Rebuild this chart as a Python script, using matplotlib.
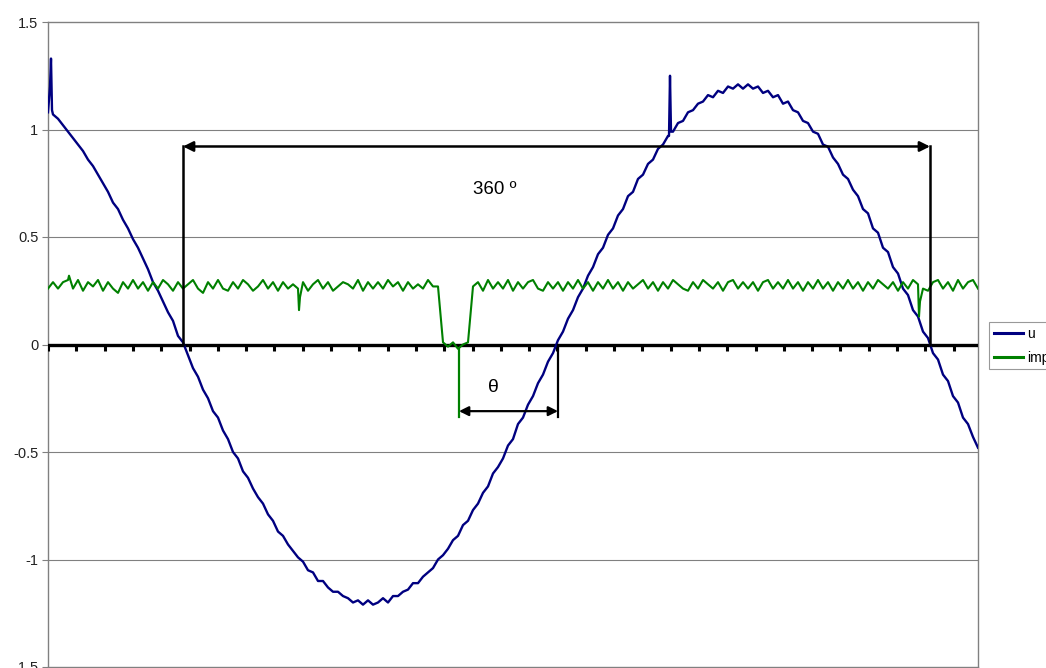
import numpy as np
import matplotlib.pyplot as plt

# sample positions (x axis has no labels, one unit per sample)
x = np.arange(0, 931, 5)

# u trace, every 5 samples
u = [1.08, 1.07, 1.05, 1.02, 0.99, 0.96, 0.93, 0.90, 0.86, 0.83,
     0.79, 0.75, 0.71, 0.66, 0.63, 0.58, 0.54, 0.49, 0.45, 0.40,
     0.35, 0.29, 0.25, 0.20, 0.15, 0.11, 0.04, 0.01, -0.05, -0.11,
     -0.15, -0.21, -0.25, -0.31, -0.34, -0.40, -0.44, -0.50, -0.53, -0.59,
     -0.62, -0.67, -0.71, -0.74, -0.79, -0.82, -0.87, -0.89, -0.93, -0.96,
     -0.99, -1.01, -1.05, -1.06, -1.10, -1.10, -1.13, -1.15, -1.15, -1.17,
     -1.18, -1.20, -1.19, -1.21, -1.19, -1.21, -1.20, -1.18, -1.20, -1.17,
     -1.17, -1.15, -1.14, -1.11, -1.11, -1.08, -1.06, -1.04, -1.00, -0.98,
     -0.95, -0.91, -0.89, -0.84, -0.82, -0.77, -0.74, -0.69, -0.66, -0.60,
     -0.57, -0.53, -0.47, -0.44, -0.37, -0.34, -0.28, -0.24, -0.18, -0.14,
     -0.08, -0.04, 0.02, 0.06, 0.12, 0.16, 0.22, 0.26, 0.32, 0.36,
     0.42, 0.45, 0.51, 0.54, 0.60, 0.63, 0.69, 0.71, 0.77, 0.79,
     0.84, 0.86, 0.91, 0.93, 0.97, 0.99, 1.03, 1.04, 1.08, 1.09,
     1.12, 1.13, 1.16, 1.15, 1.18, 1.17, 1.20, 1.19, 1.21, 1.19,
     1.21, 1.19, 1.20, 1.17, 1.18, 1.15, 1.16, 1.12, 1.13, 1.09,
     1.08, 1.04, 1.03, 0.99, 0.98, 0.93, 0.92, 0.87, 0.84, 0.79,
     0.77, 0.72, 0.69, 0.63, 0.61, 0.54, 0.52, 0.45, 0.43, 0.36,
     0.33, 0.26, 0.23, 0.16, 0.13, 0.06, 0.03, -0.04, -0.07, -0.14,
     -0.17, -0.24, -0.27, -0.34, -0.37, -0.43, -0.48]
u_spike_x = [2, 3, 4, 621, 622, 623]
u_spike_y = [1.20, 1.33, 1.09, 0.97, 1.25, 0.99]

# impulse trace
imp = [0.26, 0.29, 0.26, 0.29, 0.30, 0.26, 0.30, 0.25, 0.29, 0.27,
       0.30, 0.25, 0.29, 0.26, 0.24, 0.29, 0.26, 0.30, 0.26, 0.29,
       0.25, 0.29, 0.26, 0.30, 0.28, 0.25, 0.29, 0.26, 0.28, 0.30,
       0.26, 0.24, 0.29, 0.26, 0.30, 0.26, 0.25, 0.29, 0.26, 0.30,
       0.28, 0.25, 0.27, 0.30, 0.26, 0.29, 0.25, 0.29, 0.26, 0.28,
       0.26, 0.29, 0.25, 0.28, 0.30, 0.26, 0.29, 0.25, 0.27, 0.29,
       0.28, 0.26, 0.30, 0.25, 0.29, 0.26, 0.29, 0.26, 0.30, 0.27,
       0.29, 0.25, 0.29, 0.26, 0.28, 0.26, 0.30, 0.27, 0.27, 0.01,
       -0.01, 0.01, -0.02, 0.00, 0.01, 0.27, 0.29, 0.25, 0.30, 0.26,
       0.29, 0.26, 0.30, 0.25, 0.29, 0.26, 0.29, 0.30, 0.26, 0.25,
       0.29, 0.26, 0.29, 0.25, 0.29, 0.26, 0.30, 0.26, 0.29, 0.25,
       0.29, 0.26, 0.30, 0.26, 0.29, 0.25, 0.29, 0.26, 0.28, 0.30,
       0.26, 0.29, 0.25, 0.29, 0.26, 0.30, 0.28, 0.26, 0.25, 0.29,
       0.26, 0.30, 0.28, 0.26, 0.29, 0.25, 0.29, 0.30, 0.26, 0.29,
       0.26, 0.29, 0.25, 0.29, 0.30, 0.26, 0.29, 0.26, 0.30, 0.26,
       0.29, 0.25, 0.29, 0.26, 0.30, 0.26, 0.29, 0.25, 0.29, 0.26,
       0.30, 0.26, 0.29, 0.25, 0.29, 0.26, 0.30, 0.28, 0.26, 0.29,
       0.25, 0.29, 0.26, 0.30, 0.28, 0.26, 0.25, 0.29, 0.30, 0.26,
       0.29, 0.25, 0.30, 0.26, 0.29, 0.30, 0.26]
imp_spike_x = [21, 251, 252, 871, 872]
imp_spike_y = [0.32, 0.16, 0.22, 0.13, 0.20]


def merge(xs, ys, sx, sy):
    allx = np.concatenate([xs, sx])
    ally = np.concatenate([ys, sy])
    order = np.argsort(allx, kind="stable")
    return allx[order], ally[order]


ux, uy = merge(x, u, u_spike_x, u_spike_y)
ix, iy = merge(x, imp, imp_spike_x, imp_spike_y)

plt.rcParams['font.family'] = ['Liberation Sans', 'DejaVu Sans']

fig = plt.figure(figsize=(10.46, 6.68), dpi=100)
ax = fig.add_axes([48/1046, 1/668, 930/1046, 645/668])

ax.set_xlim(0, 930)
ax.set_ylim(-1.5, 1.5)
ax.set_yticks([-1.5, -1, -0.5, 0, 0.5, 1, 1.5])
ax.set_yticklabels(['-1.5', '-1', '-0.5', '0', '0.5', '1', '1.5'])
ax.set_xticks([])
ax.tick_params(axis='y', length=4, color='#808080', labelsize=10.5,
               labelcolor='#222222', pad=3)
for s in ax.spines.values():
    s.set_color('#808080')
    s.set_linewidth(1)
for yv in [-1, -0.5, 0.5, 1]:
    ax.axhline(yv, color='#808080', lw=0.8, zorder=0)

# category axis at zero, with its tick marks
ax.axhline(0, color='black', lw=2.4, zorder=3)
ticks = np.arange(0, 931, 28.3)
ax.vlines(ticks, -0.028, 0, color='black', lw=2.2, zorder=3)

ax.plot(ux, uy, color='#000080', lw=1.7, label='u', zorder=4)
ax.plot(ix, iy, color='#008000', lw=1.5, label='impulse', zorder=4)

# 360 degree bracket
ax.plot([135, 135], [0, 0.921], color='black', lw=1.8, zorder=5)
ax.plot([882, 882], [0, 0.921], color='black', lw=1.8, zorder=5)
ax.annotate('', xy=(135, 0.921), xytext=(882, 0.921),
            arrowprops=dict(arrowstyle='<|-|>', color='black', lw=1.8,
                            mutation_scale=15, shrinkA=0, shrinkB=0), zorder=5)
ax.text(447, 0.72, '360 º', fontsize=13.5, ha='center', va='center')

# theta bracket
ax.plot([411, 411], [-0.02, -0.335], color='#008000', lw=1.6, zorder=5)
ax.plot([510, 510], [0, -0.335], color='black', lw=1.6, zorder=5)
ax.annotate('', xy=(411, -0.31), xytext=(510, -0.31),
            arrowprops=dict(arrowstyle='<|-|>', color='black', lw=1.6,
                            mutation_scale=14, shrinkA=0, shrinkB=0), zorder=5)
ax.text(445, -0.2, 'θ', fontsize=14, ha='center', va='center')

leg = ax.legend(loc='upper left', bbox_to_anchor=(989/1046, 1 - 322/668),
                bbox_transform=fig.transFigure, fontsize=10, frameon=True,
                fancybox=False, edgecolor='#808080', handlelength=2.1,
                borderpad=0.35, borderaxespad=0, labelspacing=0.7,
                handletextpad=0.3)
leg.get_frame().set_linewidth(0.8)
for line in leg.get_lines():
    line.set_linewidth(2.2)

plt.savefig('out.png', dpi=100)
